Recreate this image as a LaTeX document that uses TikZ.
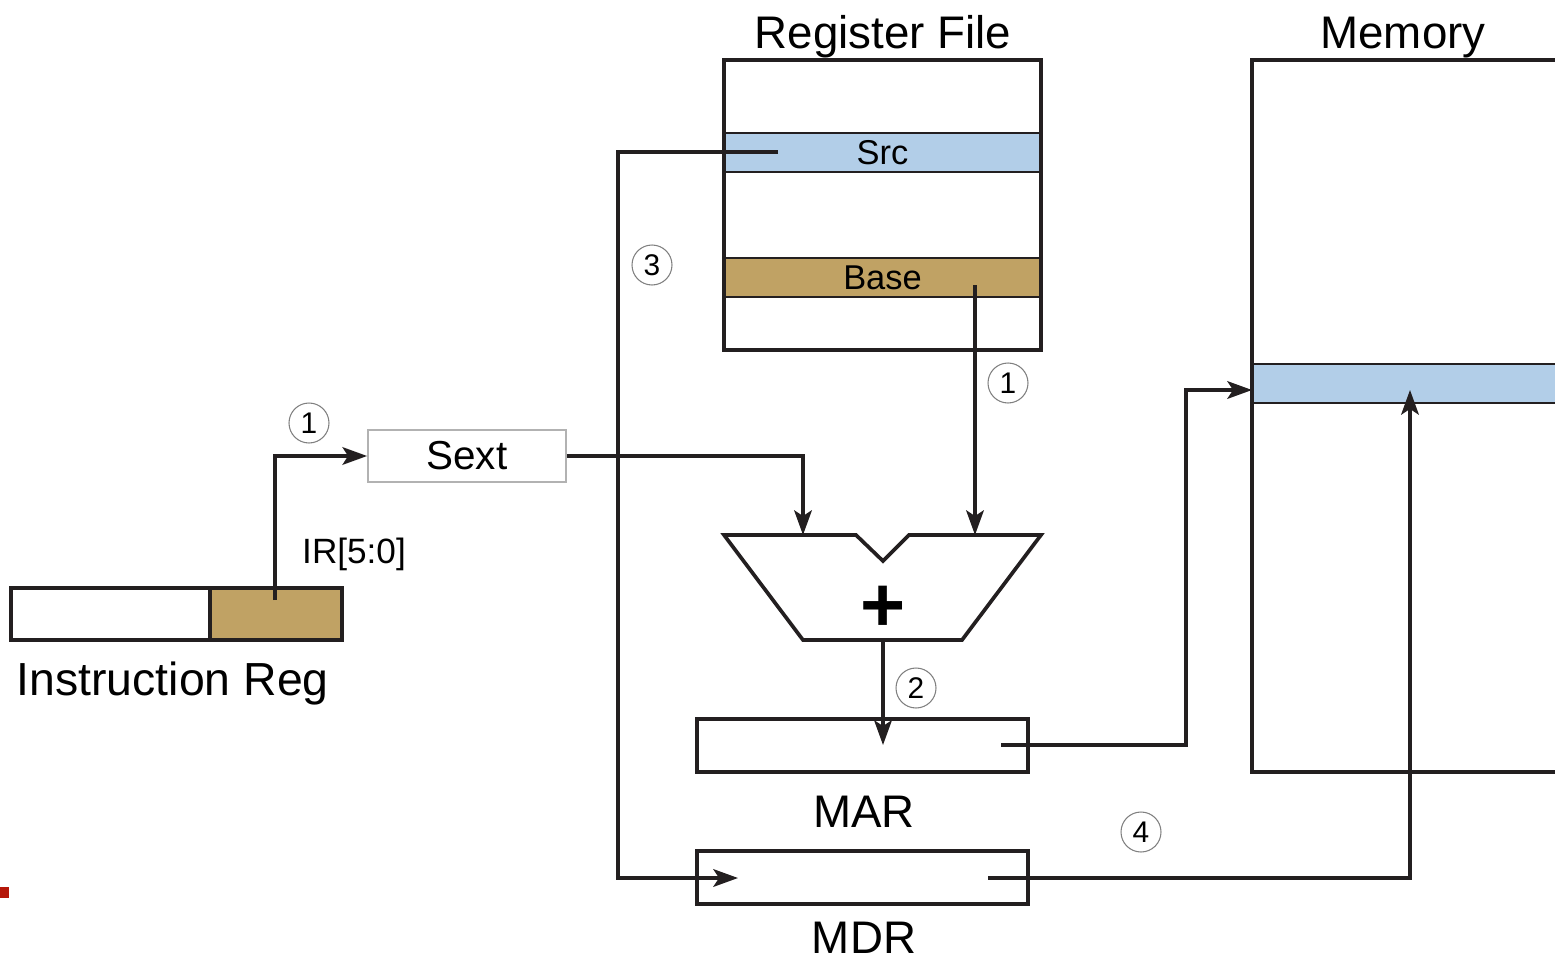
\documentclass[tikz,border=0pt]{standalone}
\usepackage{fontspec}
\setmainfont{Liberation Sans}
\usepackage{xcolor}
\usetikzlibrary{arrows.meta}

\definecolor{ink}{RGB}{35,31,32}
\definecolor{rowblue}{RGB}{178,206,232}
\definecolor{rowtan}{RGB}{192,162,100}
\definecolor{slidered}{RGB}{181,23,10}

\begin{document}
\begin{tikzpicture}[
    box/.style={draw=ink, line width=1.05pt, inner sep=0pt},
    row/.style={draw=ink, line width=0.6pt, inner sep=0pt, minimum height=0.39cm, font=\fontsize{9.8}{11}\selectfont},
    wire/.style={draw=ink, line width=1pt},
    arr/.style={wire, -{Stealth[length=7pt, width=5pt, inset=1.6pt]}},
    tag/.style={circle, draw=gray, line width=0.3pt, minimum size=0.4cm, inner sep=0pt, font=\fontsize{8.5}{9}\selectfont},
    title/.style={inner sep=0pt, font=\fontsize{13}{15}\selectfont},
]
        \useasboundingbox (0, 0) rectangle (15.55, 9.6);
        \fill[slidered] (0, 0.62) rectangle (0.09, 0.73);

        % register file
        \node[row, fill=rowblue, minimum width=3.17cm] at (8.825, 8.075) (src) {Src};
        \node[row, fill=rowtan, minimum width=3.17cm] at (8.825, 6.825) (base) {Base};
        \node[box, minimum width=3.17cm, minimum height=2.9cm] at (8.825, 7.55) (regfile) {};
        \node[title, anchor=base] at (8.83, 9.12) (regtitle) {Register File};

        % memory
        \node[row, fill=rowblue, minimum width=3.13cm] at (14.085, 5.765) (memrow) {};
        \node[box, minimum width=3.13cm, minimum height=7.12cm] at (14.085, 5.44) (memory) {};
        \node[title, anchor=base] at (14.03, 9.12) (memtitle) {Memory};

        % instruction register
        \node[box, minimum width=1.99cm, minimum height=0.52cm] at (1.105, 3.46) (irhi) {};
        \node[box, fill=rowtan, minimum width=1.32cm, minimum height=0.52cm] at (2.76, 3.46) (irlo) {};
        \node[title, anchor=base west, font=\fontsize{13.2}{15}\selectfont] at (0.16, 2.65) (irtitle) {Instruction Reg};
        \node[anchor=base, inner sep=0pt, font=\fontsize{10}{12}\selectfont] at (3.54, 3.97) (irbits) {IR[5:0]};

        \node[draw=gray!60, line width=0.5pt, inner sep=0pt, minimum width=1.98cm, minimum height=0.52cm,
              font=\fontsize{11.5}{13}\selectfont] at (4.67, 5.04) (sext) {Sext};

        % adder
        \draw[ink, line width=1.05pt, fill=white] (7.24, 4.25) -- (8.56, 4.25) -- (8.83, 3.99) -- (9.09, 4.25)
            -- (10.41, 4.25) -- (9.62, 3.2) -- (8.03, 3.2) -- cycle;
        \node[inner sep=0pt, font=\fontsize{22}{24}\bfseries] at (8.83, 3.51) (plus) {+};
        \coordinate (addl) at (8.03, 4.25);
        \coordinate (addr) at (9.75, 4.25);
        \coordinate (addout) at (8.83, 3.2);

        % MAR and MDR
        \node[box, minimum width=3.31cm, minimum height=0.53cm] at (8.625, 2.145) (mar) {};
        \node[title, anchor=base] at (8.64, 1.33) (martitle) {MAR};
        \node[box, minimum width=3.31cm, minimum height=0.53cm] at (8.625, 0.825) (mdr) {};
        \node[title, anchor=base] at (8.64, 0.07) (mdrtitle) {MDR};

        \coordinate (irtap) at (2.75, 3.6);
        \coordinate (basetap) at (9.75, 6.75);
        \coordinate (srctap) at (7.78, 8.08);
        \coordinate (marin) at (8.83, 2.15);
        \coordinate (marout) at (10.01, 2.15);
        \coordinate (mdrin) at (7.38, 0.82);
        \coordinate (mdrout) at (9.88, 0.82);
        \coordinate (memin) at (12.52, 5.7);
        \coordinate (memrd) at (14.1, 5.7);

        \draw[arr] (irtap) |- (sext.west);
        \draw[arr] (sext.east) -| (addl);
        \draw[arr] (basetap) -- (addr);
        \draw[arr] (addout) -- (marin);
        \draw[arr] (marout) -- ++(1.85, 0) |- (memin);
        \draw[arr] (srctap) -- ++(-1.6, 0) |- (mdrin);
        \draw[arr] (mdrout) -| (memrd);

        \node[tag] at (3.09, 5.37) (t1a) {1};
        \node[tag] at (10.08, 5.77) (t1b) {1};
        \node[tag] at (9.16, 2.72) (t2) {2};
        \node[tag] at (6.52, 6.95) (t3) {3};
        \node[tag] at (11.41, 1.28) (t4) {4};
    \end{tikzpicture}
\end{document}
